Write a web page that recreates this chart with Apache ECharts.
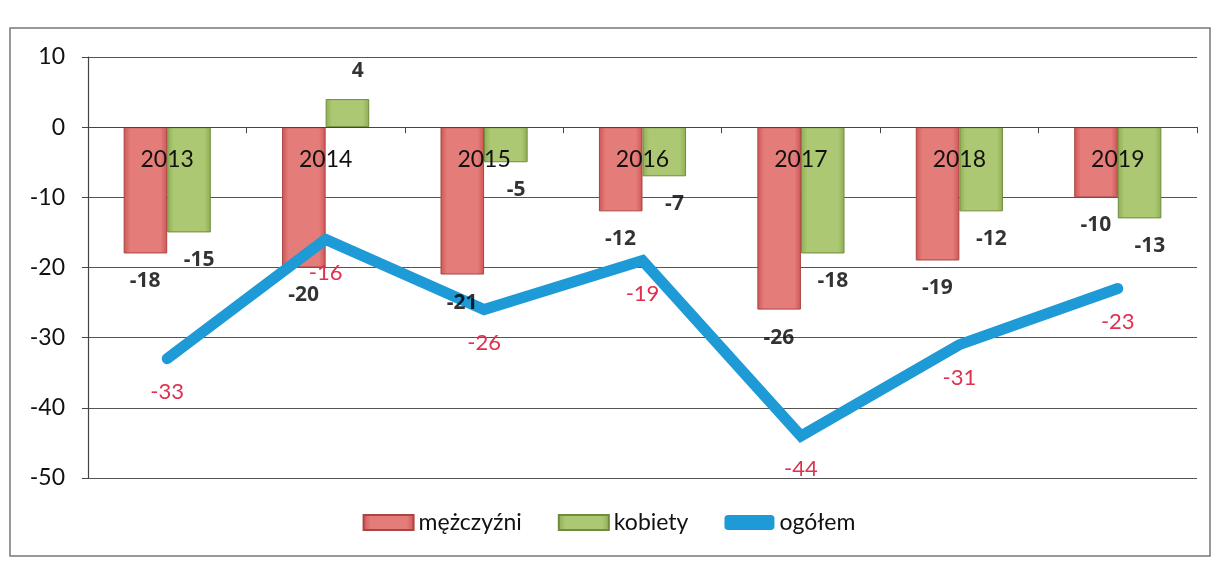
<!DOCTYPE html>
<html>
<head>
<meta charset="utf-8">
<script src="https://cdn.jsdelivr.net/npm/echarts@6/dist/echarts.min.js"></script>
<style>
  html, body { margin: 0; padding: 0; background: #fff; }
  #chart { width: 1218px; height: 561px; }
</style>
</head>
<body>
<div id="chart"></div>
<script>
const years = ["2013", "2014", "2015", "2016", "2017", "2018", "2019"];
const men = [-18, -20, -21, -12, -26, -19, -10];
const women = [-15, 4, -5, -7, -18, -12, -13];
const total = [-33, -16, -26, -19, -44, -31, -23];
const yTicks = { min: -50, max: 10, step: 10 };

const myChart = echarts.init(document.getElementById("chart"));

const gridTop = 57;
const gridBottom = 83;
const plotH = 561 - gridTop - gridBottom;
// przesunięcie osi X na linię zera
const zeroOffset = (plotH * (0 - yTicks.min)) / (yTicks.max - yTicks.min);

// etykiety pod słupkiem dla ujemnych, nad dla dodatnich
function labelPoints(values, dx) {
  return values.map((v) => ({
    value: v,
    label: {
      position: v < 0 ? "bottom" : "top",
      offset: [dx, 0],
    },
  }));
}

const redFill = new echarts.graphic.LinearGradient(0, 0, 1, 0, [
  { offset: 0, color: "#cf5553" },
  { offset: 0.15, color: "#e47c7a" },
  { offset: 0.85, color: "#e47c7a" },
  { offset: 1, color: "#cf5553" },
]);
const greenFill = new echarts.graphic.LinearGradient(0, 0, 1, 0, [
  { offset: 0, color: "#8fae55" },
  { offset: 0.15, color: "#adc873" },
  { offset: 0.85, color: "#adc873" },
  { offset: 1, color: "#8fae55" },
]);

const barLabel = {
  show: true,
  fontSize: 21,
  fontWeight: "bold",
  fontFamily: "Open Sans",
  color: "#000",
  distance: 17,
};

const option = {
  backgroundColor: "#fff",
  textStyle: { fontFamily: "Lato, Liberation Sans, sans-serif" },
  graphic: [
    {
      type: "rect",
      shape: { x: 10, y: 28, width: 1200, height: 528 },
      style: { fill: "none", stroke: "#777", lineWidth: 1.5 },
      silent: true,
    },
  ],
  grid: { left: 88, right: 21, top: gridTop, bottom: gridBottom },
  legend: {
    bottom: 22,
    left: "center",
    itemWidth: 50,
    itemHeight: 15,
    itemGap: 36,
    textStyle: { fontSize: 23, color: "#111" },
    data: [
      { name: "mężczyźni", icon: "rect" },
      { name: "kobiety", icon: "rect" },
      {
        name: "ogółem",
        icon: "roundRect",
        itemStyle: { color: "#1e9ad6", opacity: 1 },
      },
    ],
  },
  xAxis: {
    type: "category",
    data: years,
    offset: -zeroOffset,
    axisLine: { onZero: false, lineStyle: { color: "#444", width: 1.2 } },
    axisTick: { show: true, length: 6, lineStyle: { color: "#444" } },
    axisLabel: { fontSize: 23, color: "#111", margin: 21 },
    z: 10,
  },
  yAxis: {
    type: "value",
    min: yTicks.min,
    max: yTicks.max,
    interval: yTicks.step,
    axisLine: { show: true, lineStyle: { color: "#444", width: 1.2 } },
    axisTick: { show: true, length: 6, lineStyle: { color: "#444" } },
    axisLabel: { fontSize: 23, color: "#111", margin: 23 },
    splitLine: { lineStyle: { color: "#555", width: 1.2 } },
  },
  series: [
    {
      name: "mężczyźni",
      type: "bar",
      data: men,
      barGap: "0%",
      barCategoryGap: "45%",
      itemStyle: { color: redFill, borderColor: "#a94544", borderWidth: 1 },
      z: 2,
    },
    {
      name: "kobiety",
      type: "bar",
      data: women,
      itemStyle: { color: greenFill, borderColor: "#6f8b3c", borderWidth: 1 },
      z: 2,
    },
    {
      name: "ogółem",
      type: "line",
      data: total,
      symbol: "circle",
      symbolSize: 1,
      itemStyle: { color: "rgba(30,154,214,0)" },
      lineStyle: { width: 11, color: "#1e9ad6", cap: "round", join: "miter" },
      label: {
        show: true,
        position: "bottom",
        distance: 22,
        fontSize: 22,
        color: "#e0304e",
      },
      z: 5,
    },
    // niewidoczne punkty tylko z etykietami słupków (nad linią)
    {
      name: "lbl-m",
      type: "scatter",
      data: labelPoints(men, -22),
      symbolSize: 1,
      itemStyle: { color: "rgba(0,0,0,0)" },
      label: barLabel,
      z: 8,
      silent: true,
    },
    {
      name: "lbl-k",
      type: "scatter",
      data: labelPoints(women, 32),
      symbolSize: 1,
      itemStyle: { color: "rgba(0,0,0,0)" },
      label: barLabel,
      z: 8,
      silent: true,
    },
  ],
};

myChart.setOption(option);
</script>
</body>
</html>
